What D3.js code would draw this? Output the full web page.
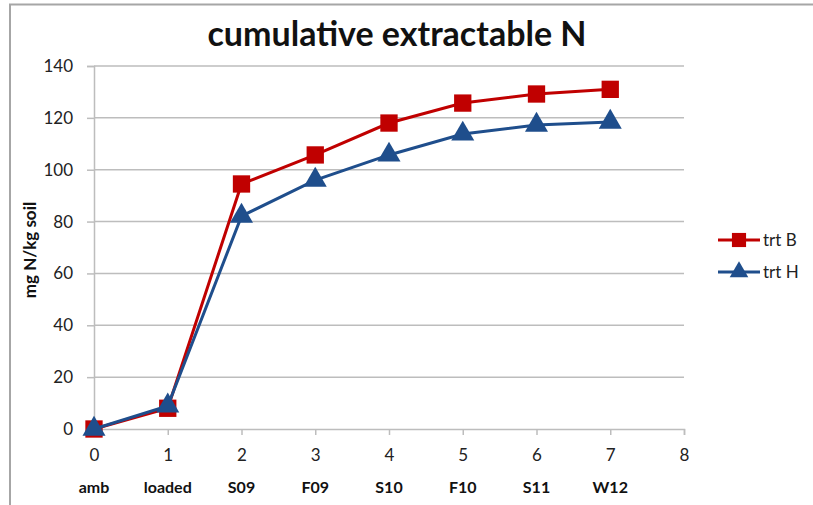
<!DOCTYPE html>
<html>
<head>
<meta charset="utf-8">
<script src="https://cdn.jsdelivr.net/npm/d3@7"></script>
<style>
  body { margin: 0; background: #fff; }
  text { font-family: Lato, "Open Sans", sans-serif; }
</style>
</head>
<body>
<svg width="813" height="505"></svg>
<script>
// data
const steps = [0, 1, 2, 3, 4, 5, 6, 7];
const stepNames = ['amb', 'loaded', 'S09', 'F09', 'S10', 'F10', 'S11', 'W12'];
const trtB = [0, 8, 94.5, 105.7, 118, 125.7, 129.2, 131];
const trtH = [0, 8.9, 82.1, 96, 105.7, 113.8, 117.2, 118.4];
const yTicks = [0, 20, 40, 60, 80, 100, 120, 140];
const xTicks = [0, 1, 2, 3, 4, 5, 6, 7, 8];

const svg = d3.select('svg');
const margin = {left: 94, top: 66, right: 129, bottom: 76};
const width = +svg.attr('width') - margin.left - margin.right;
const height = +svg.attr('height') - margin.top - margin.bottom;

// outer frame
svg.append('path')
  .attr('d', 'M10,505 V4.5 H813')
  .attr('fill', 'none')
  .attr('stroke', '#a6a6a6')
  .attr('stroke-width', 2);

const x = d3.scaleLinear().domain([0, 8]).range([0, width]);
const y = d3.scaleLinear().domain([0, 140]).range([height, 0]);

const g = svg.append('g')
  .attr('transform', `translate(${margin.left},${margin.top})`);

// gridlines
g.append('g')
  .selectAll('line')
  .data(yTicks.slice(1))
  .enter().append('line')
    .attr('x1', 0).attr('x2', width)
    .attr('y1', d => y(d)).attr('y2', d => y(d))
    .attr('stroke', '#bdbdbd').attr('stroke-width', 1.5);

// y axis
const yAxisG = g.append('g').call(d3.axisLeft(y).tickValues(yTicks).tickSize(7).tickPadding(14));
yAxisG.select('.domain').attr('stroke', '#bdbdbd').attr('stroke-width', 1.5);
yAxisG.selectAll('.tick line').attr('stroke', '#bdbdbd').attr('stroke-width', 1.5);
yAxisG.selectAll('text').attr('font-size', 17).attr('fill', '#222');

// x axis
const xAxisG = g.append('g')
  .attr('transform', `translate(0,${height})`)
  .call(d3.axisBottom(x).tickValues(xTicks).tickSize(6).tickPadding(14).tickFormat(d3.format('d')));
xAxisG.select('.domain').attr('stroke', '#bdbdbd').attr('stroke-width', 1.5);
xAxisG.selectAll('.tick line').attr('stroke', '#bdbdbd').attr('stroke-width', 1.5);
xAxisG.selectAll('text').attr('font-size', 17).attr('fill', '#222');

// category names under ticks
g.append('g')
  .selectAll('text')
  .data(steps)
  .enter().append('text')
    .attr('x', d => x(d))
    .attr('y', height + 64)
    .attr('text-anchor', 'middle')
    .attr('font-size', 16)
    .attr('font-weight', 'bold')
    .attr('fill', '#111')
    .text((d, i) => stepNames[i]);

const line = d3.line().x((d, i) => x(steps[i])).y(d => y(d));

const series = [
  {name: 'trt B', values: trtB, color: '#c00000', shape: d3.symbolSquare},
  {name: 'trt H', values: trtH, color: '#1f4e8c', shape: d3.symbolTriangle}
];

series.forEach(s => {
  g.append('path')
    .datum(s.values)
    .attr('d', line)
    .attr('fill', 'none')
    .attr('stroke', s.color)
    .attr('stroke-width', 3);
  g.append('g')
    .selectAll('path')
    .data(s.values)
    .enter().append('path')
      .attr('transform', (d, i) => `translate(${x(steps[i])},${y(d)})`)
      .attr('d', d3.symbol().type(s.shape).size(s.shape === d3.symbolSquare ? 300 : 230))
      .attr('fill', s.color);
});

// legend
const legend = svg.append('g').attr('transform', 'translate(718,240)');
series.forEach((s, i) => {
  const row = legend.append('g').attr('transform', `translate(0,${i * 32})`);
  row.append('line').attr('x1', 0).attr('x2', 42)
    .attr('stroke', s.color).attr('stroke-width', 3);
  row.append('path')
    .attr('transform', 'translate(21,0)')
    .attr('d', d3.symbol().type(s.shape).size(s.shape === d3.symbolSquare ? 200 : 150))
    .attr('fill', s.color);
  row.append('text')
    .attr('x', 45).attr('y', 6)
    .attr('font-size', 17)
    .attr('fill', '#222')
    .text(s.name);
});

// title
svg.append('text')
  .attr('x', 397).attr('y', 46)
  .attr('text-anchor', 'middle')
  .attr('font-size', 34)
  .attr('font-weight', 'bold')
  .attr('fill', '#111')
  .text('cumulative extractable N');

// y axis title
svg.append('text')
  .attr('transform', 'translate(36,250) rotate(-90)')
  .attr('text-anchor', 'middle')
  .attr('font-size', 17)
  .attr('font-weight', 'bold')
  .attr('fill', '#111')
  .text('mg N/kg soil');
</script>
</body>
</html>
